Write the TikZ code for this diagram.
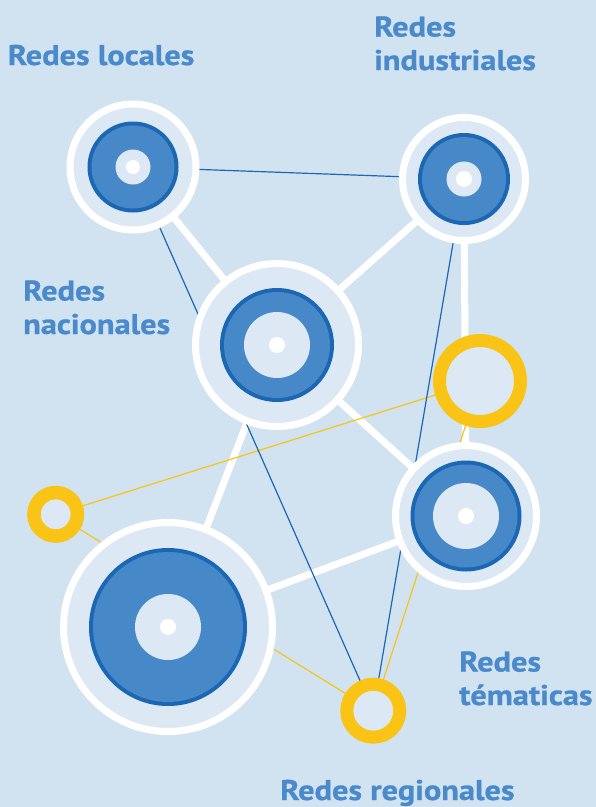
\documentclass[tikz,border=0pt]{standalone}
\usepackage{fontspec}
\setmainfont{PT Sans}
\newfontfamily\lblfont{PT Sans}[FakeStretch=1.135, BoldFeatures={FakeBold=0.8}]
\begin{document}
\begin{tikzpicture}[x=1pt,y=-1pt]
\definecolor{bg}{HTML}{D1E3F1}
\definecolor{light}{HTML}{DCE9F5}
\definecolor{mblue}{HTML}{4788C8}
\definecolor{dblue}{HTML}{1B67B4}
\definecolor{ylw}{HTML}{F9C416}
\definecolor{txt}{HTML}{4A89CA}
\tikzset{
  link/.style={draw=white, line width=7pt},
  bluelink/.style={draw=dblue, line width=1.2pt},
  yellink/.style={draw=ylw, line width=1.2pt},
  hub/.style={circle, draw=white, line width=7pt, fill=light, inner sep=0pt},
  yring/.style={circle, draw=ylw, line width=13pt, fill=light, inner sep=0pt},
  lbl/.style={text=txt, font=\lblfont\bfseries\fontsize{28.5}{33.5}\selectfont, inner sep=0pt, align=left}
}
\newcommand\hubcore[5]{%
  \fill[dblue] (#1) circle[radius=#2pt];
  \fill[mblue] (#1) circle[radius=#3pt];
  \fill[light] (#1) circle[radius=#4pt];
  \fill[white] (#1) circle[radius=#5pt];}
\fill[bg] (0,0) rectangle (596,807);
\useasboundingbox (0,0) rectangle (596,807);
% centres
\coordinate (loc) at (133,167);
\coordinate (ind) at (464,179);
\coordinate (nac) at (277,345);
\coordinate (tem) at (466,516);
\coordinate (big) at (168,627);
\coordinate (ya) at (480,381);
\coordinate (yb) at (55.7,514.3);
\coordinate (yc) at (373.3,710.7);
% thick links
\draw[link] (loc) -- (nac);
\draw[link] (ind) -- (nac);
\draw[link] (ind) -- (tem);
\draw[link] (nac) -- (tem);
\draw[link] (nac) -- (big);
\draw[link] (big) -- (tem);
% thin links
\draw[yellink] (yb) -- (ya);
\draw[yellink] (yb) -- (yc);
\draw[yellink] (ya) -- (yc);
\draw[bluelink] (loc) -- (ind);
\draw[bluelink] (loc) -- (yc);
\draw[bluelink] (ind) -- (yc);
% hubs
\node[hub, minimum size=126pt] (locN) at (loc) {};
\hubcore{locN}{45.5}{41.5}{17.5}{7}
\node[hub, minimum size=123pt] (indN) at (ind) {};
\hubcore{indN}{46}{42}{17.5}{8}
\node[hub, minimum size=163pt] (nacN) at (nac) {};
\hubcore{nacN}{57}{53}{33}{8}
\node[hub, minimum size=141pt] (temN) at (tem) {};
\hubcore{temN}{55.5}{51.5}{33}{8}
\node[hub, minimum size=209pt] (bigN) at (big) {};
\hubcore{bigN}{79}{75}{33}{8}
\node[yring, minimum size=81pt] (yaN) at (ya) {};
\node[yring, line width=13.5pt, minimum size=43.5pt] (ybN) at (yb) {};
\node[yring, minimum size=53pt] (ycN) at (yc) {};
% labels (base anchor = baseline of the last line)
\node[lbl, anchor=base west] (tLoc) at (7.6,65) {Redes locales};
\node[lbl, anchor=base west] (tInd) at (374,70) {Redes\\industriales};
\node[lbl, anchor=base west] (tNac) at (23,334) {Redes\\nacionales};
\node[lbl, anchor=base west] (tTem) at (459,705) {Redes\\tématicas};
\node[lbl, anchor=base west] (tReg) at (280,800) {Redes regionales};
\end{tikzpicture}
\end{document}
